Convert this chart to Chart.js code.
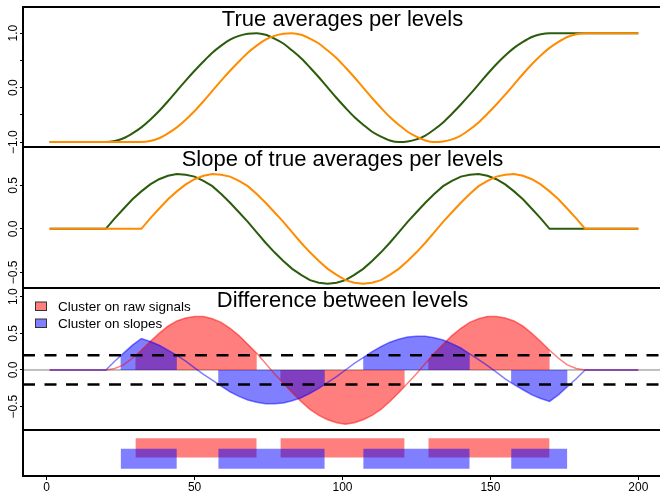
<!DOCTYPE html>
<html>
<head>
<meta charset="utf-8">
<script src="https://cdn.jsdelivr.net/npm/chart.js@4/dist/chart.umd.min.js"></script>
<style>
  html, body { margin: 0; padding: 0; background: #fff; overflow: hidden; }
</style>
</head>
<body>
<canvas id="levelsChart" width="662" height="493"></canvas>
<script>
// position along the signal, shared by every curve
const positions = [1, 20, 23, 26, 29, 32, 35, 38, 41, 44, 47, 50, 53, 56, 59, 62, 65, 68, 71, 74,
  77, 80, 83, 86, 89, 92, 95, 98, 101, 104, 107, 110, 113, 116, 119, 122, 125, 128, 131, 134,
  137, 140, 143, 146, 149, 152, 155, 158, 161, 164, 167, 170, 173, 176, 179, 182, 200];

// true averages per level
const avgLevel1 = [-1,
  -1.00, -0.98, -0.93, -0.84, -0.73, -0.59, -0.43, -0.25, -0.06, 0.13,
  0.31, 0.48, 0.64, 0.77, 0.88, 0.95, 0.99, 1.00, 0.97, 0.90,
  0.81, 0.68, 0.54, 0.37, 0.19, 0.00, -0.19, -0.37, -0.54, -0.68,
  -0.81, -0.90, -0.97, -1.00, -0.99, -0.95, -0.88, -0.77, -0.64, -0.48,
  -0.31, -0.13, 0.06, 0.25, 0.43, 0.59, 0.73, 0.84, 0.93, 0.98,
  1.00, 1, 1, 1, 1,
  1];
const avgLevel2 = [-1,
  -1, -1, -1, -1,
  -1.00, -0.98, -0.93, -0.84, -0.73, -0.59, -0.43, -0.25, -0.06, 0.13,
  0.31, 0.48, 0.64, 0.77, 0.88, 0.95, 0.99, 1.00, 0.97, 0.90,
  0.81, 0.68, 0.54, 0.37, 0.19, 0.00, -0.19, -0.37, -0.54, -0.68,
  -0.81, -0.90, -0.97, -1.00, -0.99, -0.95, -0.88, -0.77, -0.64, -0.48,
  -0.31, -0.13, 0.06, 0.25, 0.43, 0.59, 0.73, 0.84, 0.93, 0.98,
  1.00,
  1];

// slopes of the true averages
const slopeLevel1 = [0,
  0, 0.12, 0.23, 0.34, 0.43, 0.51, 0.57, 0.61, 0.63, 0.62,
  0.60, 0.55, 0.49, 0.40, 0.30, 0.19, 0.08, -0.04, -0.16, -0.27,
  -0.37, -0.46, -0.53, -0.59, -0.62, -0.63, -0.62, -0.59, -0.53, -0.46,
  -0.37, -0.27, -0.16, -0.04, 0.08, 0.19, 0.30, 0.40, 0.49, 0.55,
  0.60, 0.62, 0.63, 0.61, 0.57, 0.51, 0.43, 0.34, 0.23, 0.12,
  0, 0, 0, 0, 0,
  0];
const slopeLevel2 = [0,
  0, 0, 0, 0,
  0, 0.12, 0.23, 0.34, 0.43, 0.51, 0.57, 0.61, 0.63, 0.62,
  0.60, 0.55, 0.49, 0.40, 0.30, 0.19, 0.08, -0.04, -0.16, -0.27,
  -0.37, -0.46, -0.53, -0.59, -0.62, -0.63, -0.62, -0.59, -0.53, -0.46,
  -0.37, -0.27, -0.16, -0.04, 0.08, 0.19, 0.30, 0.40, 0.49, 0.55,
  0.60, 0.62, 0.63, 0.61, 0.57, 0.51, 0.43, 0.34, 0.23, 0.12,
  0,
  0];

// difference between levels
const rawDiff = [0,
  0, 0.02, 0.07, 0.16, 0.27, 0.39, 0.50, 0.60, 0.67, 0.71,
  0.73, 0.73, 0.70, 0.65, 0.57, 0.47, 0.35, 0.23, 0.09, -0.05,
  -0.18, -0.31, -0.43, -0.54, -0.62, -0.68, -0.72, -0.74, -0.72, -0.68,
  -0.62, -0.54, -0.43, -0.31, -0.18, -0.05, 0.09, 0.23, 0.35, 0.47,
  0.57, 0.65, 0.70, 0.73, 0.73, 0.71, 0.67, 0.60, 0.50, 0.39,
  0.27, 0.16, 0.07, 0.02, 0,
  0];
const slopeDiff = [0,
  0, 0.12, 0.23, 0.34, 0.43, 0.39, 0.34, 0.27, 0.20, 0.12,
  0.03, -0.06, -0.14, -0.22, -0.30, -0.36, -0.41, -0.44, -0.46, -0.46,
  -0.45, -0.42, -0.38, -0.32, -0.25, -0.17, -0.09, 0, 0.09, 0.17,
  0.25, 0.32, 0.38, 0.42, 0.45, 0.46, 0.46, 0.44, 0.41, 0.36,
  0.30, 0.22, 0.14, 0.06, -0.03, -0.12, -0.20, -0.27, -0.34, -0.39,
  -0.43, -0.34, -0.23, -0.12, 0,
  0];

// significant clusters (start, end)
const rawClusters = [[30, 71], [79, 121], [129, 170]];
const slopeClusters = [[25, 44], [58, 94], [107, 143], [157, 176]];
const threshold = 0.2;

// ticks
const xTicks = [0, 50, 100, 150, 200];
const avgTicks = [-1, -0.5, 0, 0.5, 1];
const avgLabels = ['\u22121.0', '', '0.0', '', '1.0'];
const slopeTicks = [-0.5, 0, 0.5];
const slopeLabels = ['\u22120.5', '0.0', '0.5'];
const diffTicks = [-0.5, 0, 0.5, 1];
const diffLabels = ['\u22120.5', '0.0', '0.5', '1.0'];

const panelTitles = ['True averages per levels', 'Slope of true averages per levels', 'Difference between levels'];
const legendLabels = ['Cluster on raw signals', 'Cluster on slopes'];

// styles
const FONT = "'Liberation Sans', Arial, Helvetica, sans-serif";
const levelColors = ['#2b5c0c', '#ff8c00'];
const redFill = 'rgba(255,0,0,0.5)';
const blueFill = 'rgba(0,0,255,0.5)';
const xMin = -8, xMax = 208;
const rawLane = [0.40, 0.82];
const slopeLane = [0.16, 0.59];

const pts = vals => positions.map((x, i) => ({ x: x, y: vals[i] }));
const hline = y => [{ x: xMin, y: y }, { x: xMax, y: y }];

// clip cluster fills to their significant intervals (must run before the filler)
const clusterClip = {
  id: 'clusterClip',
  beforeDatasetDraw(chart, args) {
    const ds = chart.data.datasets[args.index];
    if (!ds.clusters) return;
    const x = chart.scales.x, area = chart.chartArea, ctx = chart.ctx;
    ctx.save();
    ctx.beginPath();
    ds.clusters.forEach(([a, b]) => {
      const x0 = x.getPixelForValue(a), x1 = x.getPixelForValue(b);
      ctx.rect(x0, area.top, x1 - x0, area.bottom - area.top);
    });
    ctx.clip();
  },
  afterDatasetDraw(chart, args) {
    if (chart.data.datasets[args.index].clusters) chart.ctx.restore();
  }
};
const filler = Chart.registry.getPlugin('filler');
Chart.unregister(filler);
Chart.register(clusterClip, filler);

// boxes, rotated y labels, titles and legend
const panelDecor = {
  id: 'panelDecor',
  afterDraw(chart) {
    const ctx = chart.ctx, area = chart.chartArea;
    const ids = ['y1', 'y2', 'y3', 'y4'];
    ctx.save();
    ctx.strokeStyle = '#000';
    ctx.lineWidth = 2;
    ids.forEach(id => {
      const s = chart.scales[id];
      ctx.strokeRect(area.left, s.top, area.right - area.left, s.bottom - s.top);
    });

    ctx.fillStyle = '#000';
    ctx.font = '12px ' + FONT;
    [['y1', avgTicks, avgLabels], ['y2', slopeTicks, slopeLabels], ['y3', diffTicks, diffLabels]]
      .forEach(([id, vals, labs]) => {
        const s = chart.scales[id];
        vals.forEach((v, i) => {
          if (!labs[i]) return;
          ctx.save();
          ctx.translate(area.left - 6, s.getPixelForValue(v));
          ctx.rotate(-Math.PI / 2);
          ctx.textAlign = 'center';
          ctx.textBaseline = 'alphabetic';
          ctx.fillText(labs[i], 0, 0);
          ctx.restore();
        });
      });

    ctx.font = '22px ' + FONT;
    ctx.textAlign = 'center';
    ctx.textBaseline = 'alphabetic';
    const cx = (area.left + area.right) / 2;
    panelTitles.forEach((t, i) => {
      ctx.fillText(t, cx, chart.scales[ids[i]].top + 18.5);
    });

    const top = chart.scales.y3.top;
    ctx.font = '13.5px ' + FONT;
    ctx.textAlign = 'left';
    [redFill, blueFill].forEach((c, i) => {
      const y = top + 14 + i * 17;
      ctx.fillStyle = c;
      ctx.fillRect(35.5, y, 11, 8.5);
      ctx.strokeStyle = '#333';
      ctx.lineWidth = 1;
      ctx.strokeRect(35.5, y, 11, 8.5);
      ctx.fillStyle = '#000';
      ctx.fillText(legendLabels[i], 58, y + 8.5);
    });
    ctx.restore();
  }
};

const yScale = (weight, stackWeight, min, max, ticks) => ({
  type: 'linear', position: 'left', stack: 'panels', stackWeight: stackWeight, weight: weight,
  min: min, max: max,
  afterBuildTicks: s => { s.ticks = ticks.map(v => ({ value: v })); },
  afterFit: s => { s.width = 23; },
  ticks: { display: false },
  grid: { display: ticks.length > 0, drawOnChartArea: false, tickLength: 3, color: '#000' },
  border: { display: false }
});

const datasets = [
  // panel 4: cluster bars
  ...rawClusters.map(([a, b]) => ({
    data: [{ x: a, y: rawLane[1] }, { x: b, y: rawLane[1] }], yAxisID: 'y4',
    fill: { value: rawLane[0] }, backgroundColor: redFill, borderColor: 'transparent', borderWidth: 0, order: 12
  })),
  ...slopeClusters.map(([a, b]) => ({
    data: [{ x: a, y: slopeLane[1] }, { x: b, y: slopeLane[1] }], yAxisID: 'y4',
    fill: { value: slopeLane[0] }, backgroundColor: blueFill, borderColor: 'transparent', borderWidth: 0, order: 11
  })),
  // panel 3
  { data: hline(0), yAxisID: 'y3', borderColor: '#808080', borderWidth: 1, order: 10 },
  { label: legendLabels[0], data: pts(rawDiff), yAxisID: 'y3', clusters: rawClusters,
    fill: { value: 0 }, backgroundColor: redFill, borderColor: 'transparent', borderWidth: 0, order: 9 },
  { label: legendLabels[1], data: pts(slopeDiff), yAxisID: 'y3', clusters: slopeClusters,
    fill: { value: 0 }, backgroundColor: blueFill, borderColor: 'transparent', borderWidth: 0, order: 8 },
  { data: pts(rawDiff), yAxisID: 'y3', borderColor: 'rgba(255,0,0,0.5)', borderWidth: 1.5, order: 7 },
  { data: pts(slopeDiff), yAxisID: 'y3', borderColor: 'rgba(0,0,255,0.5)', borderWidth: 1.5, order: 6 },
  { data: hline(threshold), yAxisID: 'y3', borderColor: '#000', borderWidth: 2.5, borderDash: [12, 9.5], order: 5 },
  { data: hline(-threshold), yAxisID: 'y3', borderColor: '#000', borderWidth: 2.5, borderDash: [12, 9.5], order: 5 },
  // panels 1 and 2
  { data: pts(avgLevel1), yAxisID: 'y1', borderColor: levelColors[0], borderWidth: 2, cubicInterpolationMode: 'monotone', order: 4 },
  { data: pts(avgLevel2), yAxisID: 'y1', borderColor: levelColors[1], borderWidth: 2, cubicInterpolationMode: 'monotone', order: 3 },
  { data: pts(slopeLevel1), yAxisID: 'y2', borderColor: levelColors[0], borderWidth: 2, order: 2 },
  { data: pts(slopeLevel2), yAxisID: 'y2', borderColor: levelColors[1], borderWidth: 2, order: 1 }
];

new Chart(document.getElementById('levelsChart').getContext('2d'), {
  type: 'line',
  data: { datasets: datasets },
  options: {
    responsive: false,
    animation: false,
    events: [],
    layout: { padding: { top: 7, left: 0, right: 0, bottom: 0 }, autoPadding: false },
    elements: { point: { radius: 0 }, line: { tension: 0 } },
    plugins: { legend: { display: false }, tooltip: { enabled: false }, title: { display: false } },
    scales: {
      x: {
        type: 'linear', position: 'bottom', min: xMin, max: xMax,
        afterBuildTicks: s => { s.ticks = xTicks.map(v => ({ value: v })); },
        afterFit: s => { s.height = 17; },
        ticks: { color: '#000', padding: 0, maxRotation: 0, font: { family: FONT, size: 12 } },
        grid: { drawOnChartArea: false, tickLength: 4, color: '#000' },
        border: { display: false }
      },
      y1: yScale(4, 140, -1.09, 1.48, avgTicks),
      y2: yScale(3, 141, -0.68, 0.94, slopeTicks),
      y3: yScale(2, 142, -0.82, 1.12, diffTicks),
      y4: yScale(1, 46, 0, 1, [])
    }
  },
  plugins: [panelDecor]
});
</script>
</body>
</html>
